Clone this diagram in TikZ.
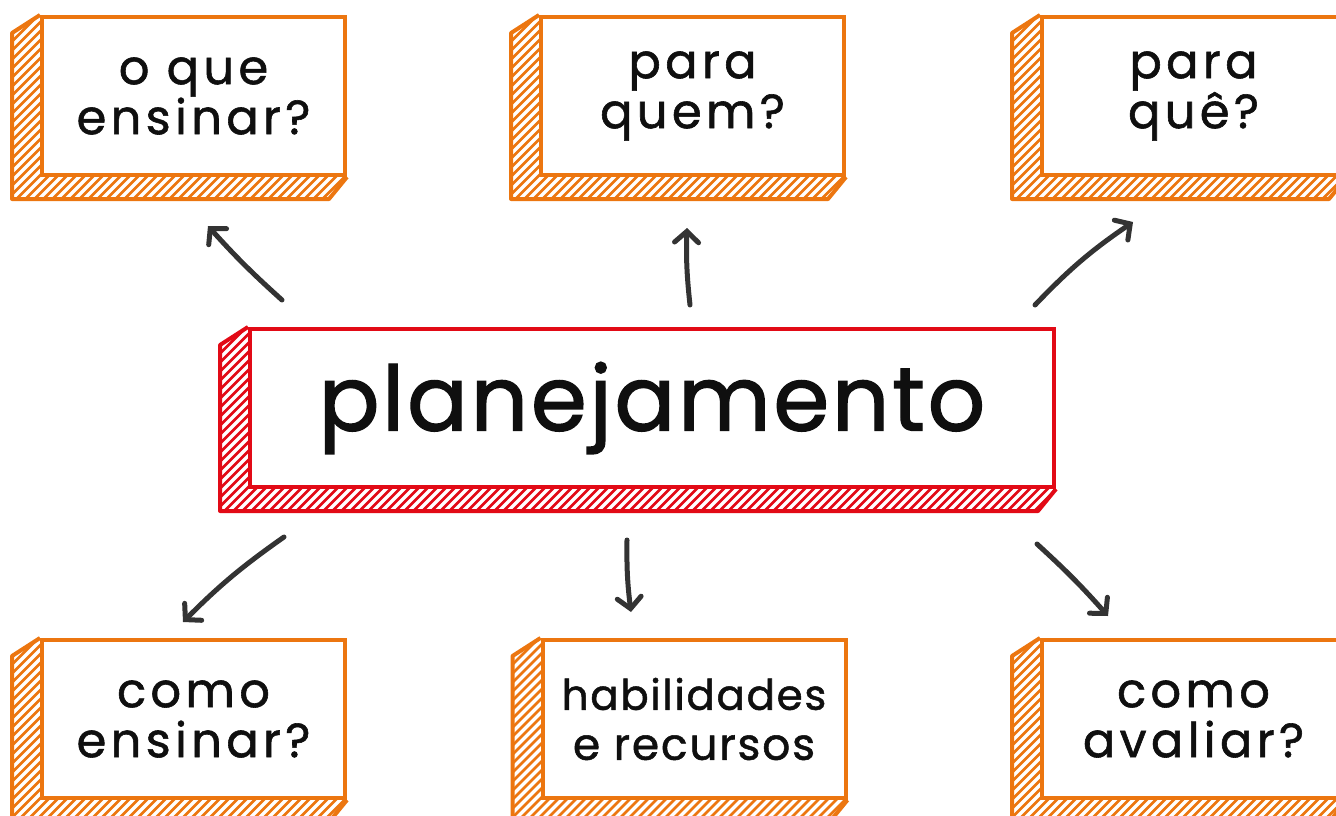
\documentclass[tikz,border=0pt]{standalone}
\usepackage{fontspec}
\setmainfont{Poppins}
\usetikzlibrary{arrows.meta,calc}
\pgfdeclarelayer{bg}
\pgfsetlayers{bg,main}
\definecolor{orng}{RGB}{236,118,16}
\definecolor{rd}{RGB}{226,10,22}
\definecolor{ink}{RGB}{51,51,51}
\definecolor{txt}{RGB}{15,15,15}
\newcommand{\hatchside}[2]{%
 \begin{pgfonlayer}{bg}
 \begin{scope}
  \clip (#1.north west) -- ++(-28,18) -- ($(#1.south west)+(-28,22)$) -- ($(#1.south east)+(-18,22)$) -- (#1.south east) -- cycle;
  \fill[#2] ($(#1.north west)+(-40,-10)$) rectangle ($(#1.south east)+(10,30)$);
  \foreach \i in {-250,-241,...,850}{
    \draw[white, line width=3.4] ($(#1.south west)+(\i,28)$) -- ++(260,-260);
  }
 \end{scope}
 \draw[#2, line width=4, line join=round] (#1.north west) -- ++(-28,18) -- ($(#1.south west)+(-28,22)$) -- ($(#1.south east)+(-18,22)$) -- (#1.south east);
 \end{pgfonlayer}}
\tikzset{
  qbox/.style={draw=orng, line width=4, fill=white, minimum width=303pt, minimum height=158pt,
    inner sep=0pt, align=center, text=txt, font=\fontsize{48}{50}\selectfont\addfontfeature{LetterSpace=9,FakeBold=1.2}},
  pbox/.style={draw=rd, line width=4, fill=white, minimum width=804pt, minimum height=158pt,
    inner sep=0pt, align=center, text=txt, font=\fontsize{90}{96}\selectfont\addfontfeature{LetterSpace=3,FakeBold=1.5}},
  arr/.style={draw=ink, line width=5, line cap=round, -{Straight Barb[length=11pt,width=24pt,line cap=round]}}
}
\begin{document}
\begin{tikzpicture}[x=1pt,y=-1pt]
\useasboundingbox (0,0) rectangle (1336,816);
\clip (0,0) rectangle (1336,816);
\node[qbox] (b1) at (193.5,96) {o que\\ensinar?};
\node[qbox] (b2) at (692.5,96) {para\\quem?};
\node[qbox] (b3) at (1193.5,96) {para\\quê?};
\node[pbox] (plan) at (652,408) {planejamento};
\node[qbox] (b4) at (193.5,719) {\raisebox{-3pt}{como}\\\raisebox{-3pt}{ensinar?}};
\node[qbox, font=\fontsize{44}{50}\selectfont\addfontfeature{LetterSpace=4,FakeBold=1.2}] (b5) at (694,719) {{\fontsize{42}{50}\selectfont habilidades}\\e recursos};
\node[qbox] (b6) at (1193.5,719) {como\\avaliar?};
\hatchside{b1}{orng}
\hatchside{b2}{orng}
\hatchside{b3}{orng}
\hatchside{b4}{orng}
\hatchside{b5}{orng}
\hatchside{b6}{orng}
\hatchside{plan}{rd}
\coordinate (a1s) at (282,300); \coordinate (a1e) at (208,226);
\coordinate (a2s) at (690,305); \coordinate (a2e) at (687,228);
\coordinate (a3s) at (1035,305); \coordinate (a3e) at (1133,222);
\coordinate (a4s) at (284,537); \coordinate (a4e) at (183,622);
\coordinate (a5s) at (627,540); \coordinate (a5e) at (631,612);
\coordinate (a6s) at (1037,544); \coordinate (a6e) at (1108,616);
\draw[arr] (a1s) to[bend left=3] (a1e);
\draw[arr] (a2s) to[bend left=4] (a2e);
\draw[arr] (a3s) to[bend left=6] (a3e);
\draw[arr] (a4s) to[bend right=5] (a4e);
\draw[arr] (a5s) to[bend right=4] (a5e);
\draw[arr] (a6s) to[bend left=3] (a6e);
\end{tikzpicture}
\end{document}
